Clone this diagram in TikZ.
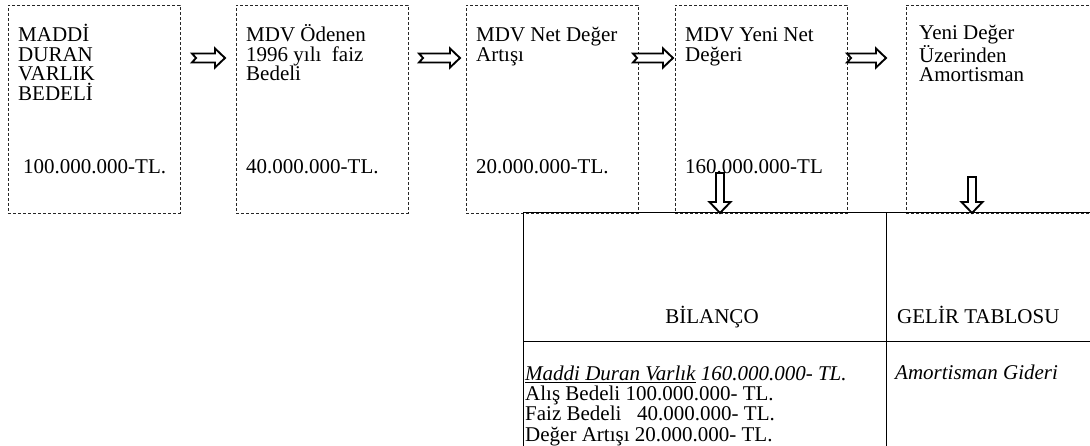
\documentclass[tikz,border=0pt]{standalone}
\usepackage{fontspec}
\setmainfont{Liberation Serif}
\usetikzlibrary{positioning, calc}

\begin{document}
\begin{tikzpicture}[x=1pt, y=-1pt,
    topbox/.style={draw=black!85, densely dashed, line width=0.8pt, minimum width=172pt,
                   minimum height=208pt, outer sep=0pt},
    cell/.style={draw, line width=1pt, minimum width=363pt, minimum height=129pt,
                 anchor=north west, outer sep=0pt},
    txt/.style={inner sep=0pt, align=left, font=\fontsize{21}{19.5}\selectfont},
    harrow/.style={draw, line width=1.9pt, fill=white, line join=miter, to path={
        let \p1=(\tikztostart), \p2=(\tikztotarget) in
        (\x1,\y1+4.5pt) -- (\x2-10pt,\y1+4.5pt) -- (\x2-10pt,\y1+9.5pt) -- (\x2,\y1)
        -- (\x2-10pt,\y1-9.5pt) -- (\x2-10pt,\y1-4.5pt) -- (\x1,\y1-4.5pt)
        -- (\x1+4pt,\y1) -- cycle}},
    varrow/.style={draw, line width=1.9pt, fill=white, line join=miter, to path={
        let \p1=(\tikztostart), \p2=(\tikztotarget) in
        (\x1-4pt,\y1) -- (\x1-4pt,\y2+11pt) -- (\x1-10.5pt,\y2+11pt) -- (\x1,\y2)
        -- (\x1+10.5pt,\y2+11pt) -- (\x1+4pt,\y2+11pt) -- (\x1+4pt,\y1) -- cycle}}
]
    \useasboundingbox (0,0) rectangle (1090,446);

    % Row 1 - steps
    \node[topbox, anchor=north west] (b1) at (8,5) {};
    \node[topbox, right=56pt of b1] (b2) {};
    \node[topbox, right=58pt of b2] (b3) {};
    \node[topbox, right=37pt of b3] (b4) {};
    \node[topbox, right=59pt of b4, minimum width=200pt] (b5) {};

    % (base = baseline of the last line)
    \node[txt, anchor=base west] (b1h) at ([shift={(10,95.5)}]b1.north west)
        {MADDİ\\DURAN\\VARLIK\\BEDELİ};
    \node[txt, anchor=base west] (b1v) at ([shift={(15,169)}]b1.north west) {100.000.000-TL.};
    \node[txt, anchor=base west] (b2h) at ([shift={(10,76)}]b2.north west)
        {MDV Ödenen\\1996 yılı~ faiz\\Bedeli};
    \node[txt, anchor=base west] (b2v) at ([shift={(10,169)}]b2.north west) {40.000.000-TL.};
    \node[txt, anchor=base west] (b3h) at ([shift={(10,56.5)}]b3.north west)
        {MDV Net Değer\\Artışı};
    \node[txt, anchor=base west] (b3v) at ([shift={(10,169)}]b3.north west) {20.000.000-TL.};
    \node[txt, anchor=base west] (b4h) at ([shift={(10,56.5)}]b4.north west)
        {MDV Yeni Net\\Değeri};
    \node[txt, anchor=base west] (b4v) at ([shift={(10,169)}]b4.north west) {160.000.000-TL};
    \node[txt, anchor=base west] (b5h) at ([shift={(13,77)}]b5.north west)
        {Yeni Değer\\Üzerinden\\Amortisman};

    % Row 2 - table
    \node[cell] (bil) at (523,213) {};
    \node[cell, right=0pt of bil, minimum width=230pt] (gel) {};
    \node[cell, below=0pt of bil, minimum height=130pt] (bilv) {};
    \node[cell, below=0pt of gel, minimum width=230pt, minimum height=130pt] (gelv) {};

    \node[txt, anchor=base] (bilt) at ([shift={(189,111)}]bil.north west) {BİLANÇO};
    \node[txt, anchor=base west] (gelt) at ([shift={(11,111)}]gel.north west) {GELİR TABLOSU};
    \node[txt, anchor=base west, font=\fontsize{21}{20.3}\selectfont] (bilvt)
        at ([shift={(2,99)}]bilv.north west)
        {\textit{\underline{Maddi Duran Varlık} 160.000.000- TL.}\\
         Alış Bedeli 100.000.000- TL.\\
         Faiz Bedeli~~ 40.000.000- TL.\\
         Değer Artışı 20.000.000- TL.};
    \node[txt, anchor=base west] (gelvt) at ([shift={(9,38)}]gelv.north west)
        {\textit{Amortisman Gideri}};

    % Arrows
    \draw[harrow] ([shift={(12,53)}]b1.north east) to ([shift={(-11,53)}]b2.north west);
    \draw[harrow] ([shift={(11,53)}]b2.north east) to ([shift={(-6,53)}]b3.north west);
    \draw[harrow] ([shift={(-5,53)}]b3.north east) to ([shift={(-2,53)}]b4.north west);
    \draw[harrow] ([shift={(0,53)}]b4.north east) to ([shift={(-20,53)}]b5.north west);
    \draw[varrow] ([shift={(45,-40)}]b4.south west) to ([shift={(197,0)}]bil.north west);
    \draw[varrow] ([shift={(66,-36)}]b5.south west) to ([shift={(86,0)}]gel.north west);
\end{tikzpicture}
\end{document}
